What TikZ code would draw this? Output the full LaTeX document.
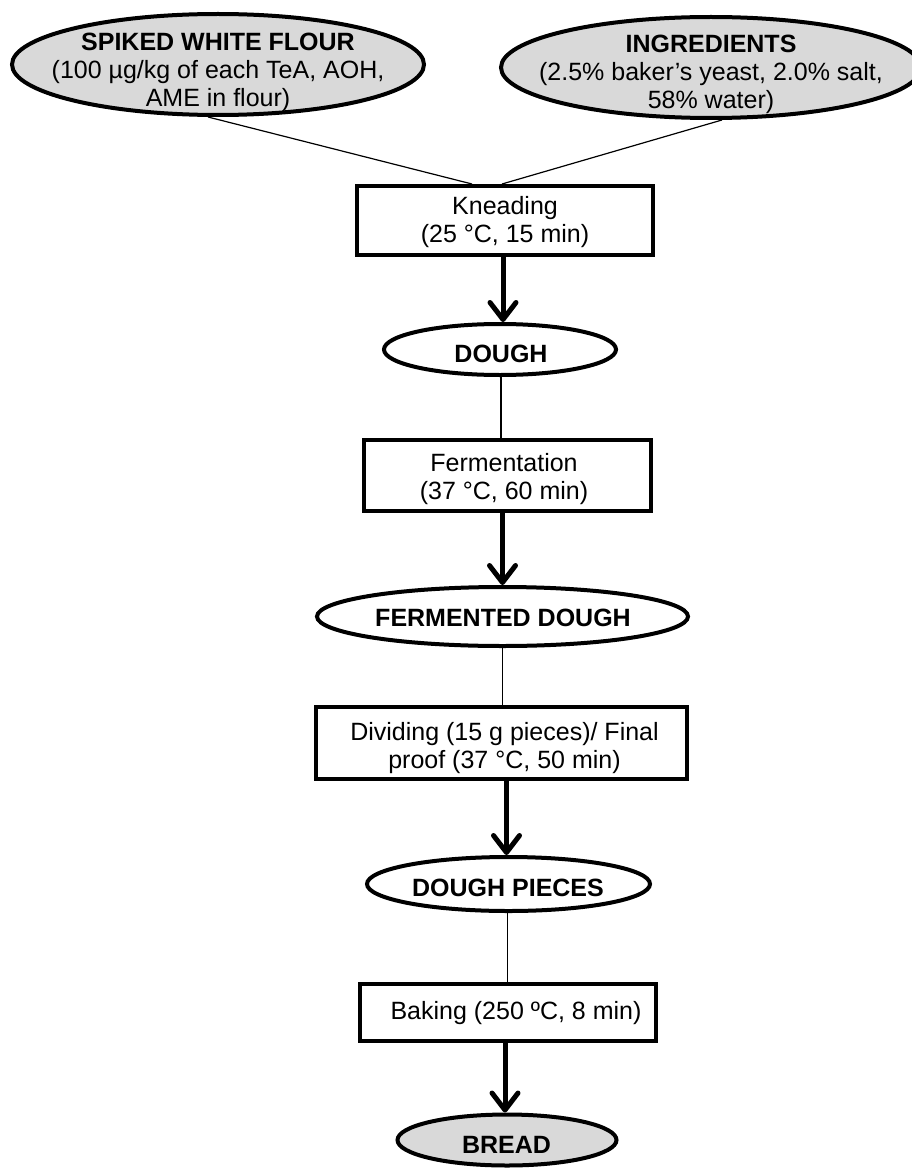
\documentclass[tikz,border=0pt]{standalone}
\usepackage{fontspec}
\setmainfont{Liberation Sans}
\usetikzlibrary{shapes.geometric,arrows.meta}
\begin{document}
\begin{tikzpicture}[x=1pt,y=-1pt,
  txt/.style={align=center,inner sep=0pt,font=\fontsize{25}{28}\selectfont},
  ell/.style={draw,ellipse,line width=4pt,inner sep=0pt},
  grayell/.style={ell,fill=gray!30},
  whiteell/.style={ell,fill=white},
  procbox/.style={draw,rectangle,line width=4pt,inner sep=0pt,fill=white},
  thin/.style={line width=1.2pt},
  flow/.style={line width=5pt,-{Straight Barb[length=17pt,width=26pt,line width=5pt,round]}}
]
\useasboundingbox (0,0) rectangle (912,1169);
% shapes
\node[grayell,minimum width=412pt,minimum height=101pt] (L) at (218,64.5) {};
\node[grayell,minimum width=420pt,minimum height=101pt] (R) at (711,67.5) {};
\node[procbox,minimum width=296pt,minimum height=69pt] (K) at (505,220.5) {};
\node[whiteell,minimum width=232pt,minimum height=51pt] (D1) at (500,349.5) {};
\node[procbox,minimum width=287pt,minimum height=71pt] (F) at (507.5,475.5) {};
\node[whiteell,minimum width=371pt,minimum height=59pt] (FD) at (502.5,616.5) {};
\node[procbox,minimum width=371pt,minimum height=72pt] (DV) at (501.5,743) {};
\node[whiteell,minimum width=283pt,minimum height=54pt] (DP) at (508.5,884) {};
\node[procbox,minimum width=296pt,minimum height=57pt] (B) at (508,1012.5) {};
\node[grayell,minimum width=219pt,minimum height=51pt] (BR) at (507,1140) {};
% texts
\node[txt] (Lt) at (218,72) {\textbf{SPIKED WHITE FLOUR}\\(100 µg/kg of each TeA, AOH,\\AME in flour)};
\node[txt] (Rt) at (711,74.5) {\textbf{INGREDIENTS}\\(2.5\% baker’s yeast, 2.0\% salt,\\58\% water)};
\node[txt] (Kt) at (505,222.5) {Kneading\\(25 °C, 15 min)};
\node[txt] (D1t) at (501,354) {\textbf{DOUGH}};
\node[txt] (Ft) at (504,479) {Fermentation\\(37 °C, 60 min)};
\node[txt] (FDt) at (503,617.5) {\textbf{FERMENTED DOUGH}};
\node[txt] (DVt) at (504.5,748) {Dividing (15 g pieces)/ Final\\proof (37 °C, 50 min)};
\node[txt] (DPt) at (508,888) {\textbf{DOUGH PIECES}};
\node[txt] (Bt) at (516,1013.5) {Baking (250 ºC, 8 min)};
\node[txt] (BRt) at (506.5,1144.5) {\textbf{BREAD}};
% connectors
\draw[thin] ([xshift=-10pt]L.south) -- ([xshift=-33pt]K.north);
\draw[thin] ([xshift=11pt]R.south) -- ([xshift=-3pt]K.north);
\draw[flow] ([xshift=-2pt]K.south) -- ([xshift=-2pt]K.south |- D1.north);
\draw[thin] ([xshift=1pt]D1.south) -- ([xshift=1pt]D1.south |- F.north);
\draw[flow] ([xshift=-5pt]F.south) -- ([xshift=-5pt]F.south |- FD.north);
\draw[thin] (FD.south) -- (FD.south |- DV.north);
\draw[flow] ([xshift=5pt]DV.south) -- ([xshift=5pt]DV.south |- DP.north);
\draw[thin] ([xshift=-1pt]DP.south) -- ([xshift=-1pt]DP.south |- B.north);
\draw[flow] ([xshift=-3pt]B.south) -- ([xshift=-3pt]B.south |- BR.north);
\end{tikzpicture}
\end{document}
